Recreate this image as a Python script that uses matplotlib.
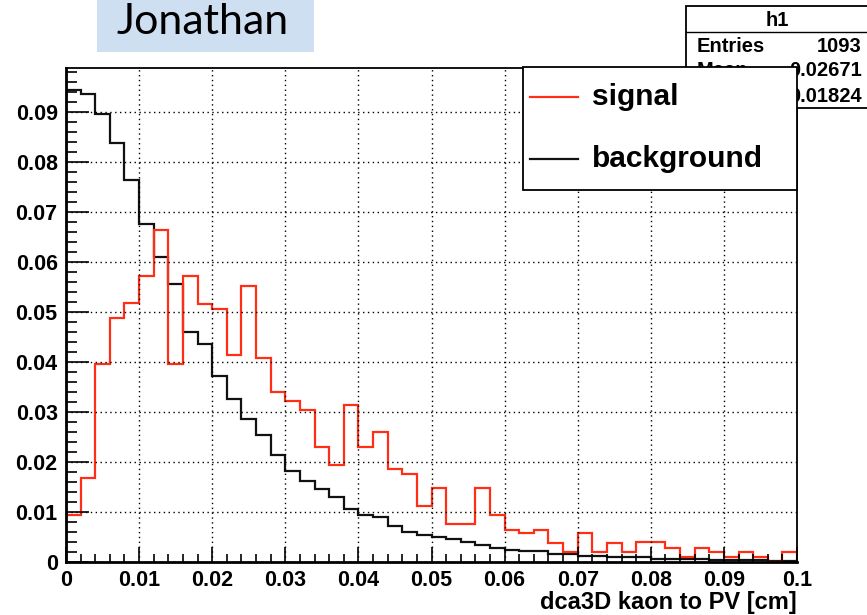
import numpy as np
import matplotlib
matplotlib.use("Agg")
import matplotlib.pyplot as plt
from matplotlib.patches import Rectangle
from matplotlib.lines import Line2D

# bin contents, 50 bins over [0, 0.1] cm
signal = [0.0093, 0.0167, 0.0395, 0.0487, 0.0517, 0.0571, 0.0663, 0.0395, 0.0571, 0.0516,
          0.0506, 0.0413, 0.0552, 0.0407, 0.0340, 0.0321, 0.0303, 0.0230, 0.0193, 0.0313,
          0.0230, 0.0259, 0.0185, 0.0175, 0.0111, 0.0148, 0.0075, 0.0075, 0.0148, 0.0093,
          0.0063, 0.0057, 0.0064, 0.0038, 0.0020, 0.0057, 0.0020, 0.0038, 0.0020, 0.0039,
          0.0039, 0.0027, 0.0009, 0.0027, 0.0020, 0.0009, 0.0020, 0.0009, 0.0000, 0.0020]
background = [0.0943, 0.0935, 0.0895, 0.0837, 0.0763, 0.0675, 0.0610, 0.0555, 0.0459, 0.0435,
              0.0372, 0.0325, 0.0285, 0.0253, 0.0213, 0.0182, 0.0161, 0.0145, 0.0130, 0.0106,
              0.0093, 0.0090, 0.0072, 0.0059, 0.0053, 0.0049, 0.0046, 0.0040, 0.0033, 0.0027,
              0.0023, 0.0021, 0.0021, 0.0015, 0.0015, 0.0012, 0.0012, 0.0010, 0.0010, 0.0010,
              0.0006, 0.0006, 0.0005, 0.0005, 0.0004, 0.0004, 0.0003, 0.0003, 0.0002, 0.0002]
bin_edges = np.linspace(0.0, 0.1, 51)

x_ticks = [0.0, 0.01, 0.02, 0.03, 0.04, 0.05, 0.06, 0.07, 0.08, 0.09, 0.1]
x_labels = ['0', '0.01', '0.02', '0.03', '0.04', '0.05', '0.06', '0.07', '0.08', '0.09', '0.1']
y_ticks = [0.0, 0.01, 0.02, 0.03, 0.04, 0.05, 0.06, 0.07, 0.08, 0.09]
y_labels = ['0', '0.01', '0.02', '0.03', '0.04', '0.05', '0.06', '0.07', '0.08', '0.09']

stats_title = 'h1'
stats_rows = [('Entries', '1093'), ('Mean', '0.02671'), ('RMS', '0.01824')]
legend_labels = ['signal', 'background']

W, H = 867, 615
plt.rcParams['font.family'] = ['Liberation Sans', 'DejaVu Sans']
plt.rcParams['font.weight'] = 'bold'


def fx(px):
    return px / W


def fy(py):
    return 1 - py / H


fig = plt.figure(figsize=(W / 100, H / 100), dpi=100)
ax = fig.add_axes([fx(66), fy(561.7), fx(797 - 66), (561.7 - 68) / H])

sig_color = '#ff2e14'
bkg_color = '#111111'
ax.stairs(background, bin_edges, color=bkg_color, lw=1.6)
ax.stairs(signal, bin_edges, color=sig_color, lw=1.6)

ax.set_xlim(0, 0.1)
ax.set_ylim(0, 0.0987)
ax.set_xticks(x_ticks)
ax.set_xticklabels(x_labels)
ax.set_yticks(y_ticks)
ax.set_yticklabels(y_labels)
ax.set_xticks(np.arange(0, 0.1001, 0.002), minor=True)
ax.set_yticks(np.arange(0, 0.0987, 0.002), minor=True)
ax.tick_params(axis='both', which='both', direction='in', width=1.2, labelsize=15.5, colors='black')
ax.tick_params(axis='y', which='major', length=16.5, pad=6)
ax.tick_params(axis='y', which='minor', length=8)
ax.tick_params(axis='x', which='major', length=11, pad=6)
ax.tick_params(axis='x', which='minor', length=5.8)
ax.grid(True, which='major', color='black', lw=1.0, linestyle=(0, (1, 2.5)))
for side in ['left', 'bottom']:
    ax.spines[side].set_linewidth(2.0)
for side in ['top', 'right']:
    ax.spines[side].set_linewidth(1.3)

# axis title, right-aligned under the axis end
fig.text(fx(797), fy(609), 'dca3D kaon to PV [cm]', ha='right', va='baseline', fontsize=17)

# statistics box, partly hidden under the legend
fig.add_artist(Rectangle((fx(686), fy(108)), fx(868 - 686), (108 - 6) / H,
                         transform=fig.transFigure, facecolor='white', edgecolor='black', lw=1.3, zorder=1))
fig.add_artist(Line2D([fx(686), fx(868)], [fy(32), fy(32)], transform=fig.transFigure,
                      color='black', lw=1.0, zorder=2))
fig.text(fx(777), fy(20), stats_title, ha='center', va='center', fontsize=14.5)
for i, (name, val) in enumerate(stats_rows):
    yy = fy(46 + 25 * i)
    fig.text(fx(697), yy, name, ha='left', va='center', fontsize=14.5)
    fig.text(fx(862), yy, val, ha='right', va='center', fontsize=14.5)

# legend box drawn over the stats box
fig.add_artist(Rectangle((fx(523), fy(190)), fx(797 - 523), (190 - 66.7) / H,
                         transform=fig.transFigure, facecolor='white', edgecolor='black', lw=1.3, zorder=5))
for label, color, yy in zip(legend_labels, [sig_color, bkg_color], [97, 159]):
    fig.add_artist(Line2D([fx(530), fx(578)], [fy(yy), fy(yy)], transform=fig.transFigure,
                          color=color, lw=1.6, zorder=6))
    fig.text(fx(592), fy(yy), label, ha='left', va='center', fontsize=21.5, zorder=6)

# name tag
fig.add_artist(Rectangle((fx(97), fy(52)), fx(314 - 97), 52 / H, transform=fig.transFigure,
                         facecolor='#cfdff2', edgecolor='none', zorder=1))
fig.text(fx(203), fy(22), 'Jonathan', ha='center', va='center', fontsize=31,
         fontweight='normal', family=['Lato', 'DejaVu Sans'])

fig.savefig('out.png', dpi=100)
